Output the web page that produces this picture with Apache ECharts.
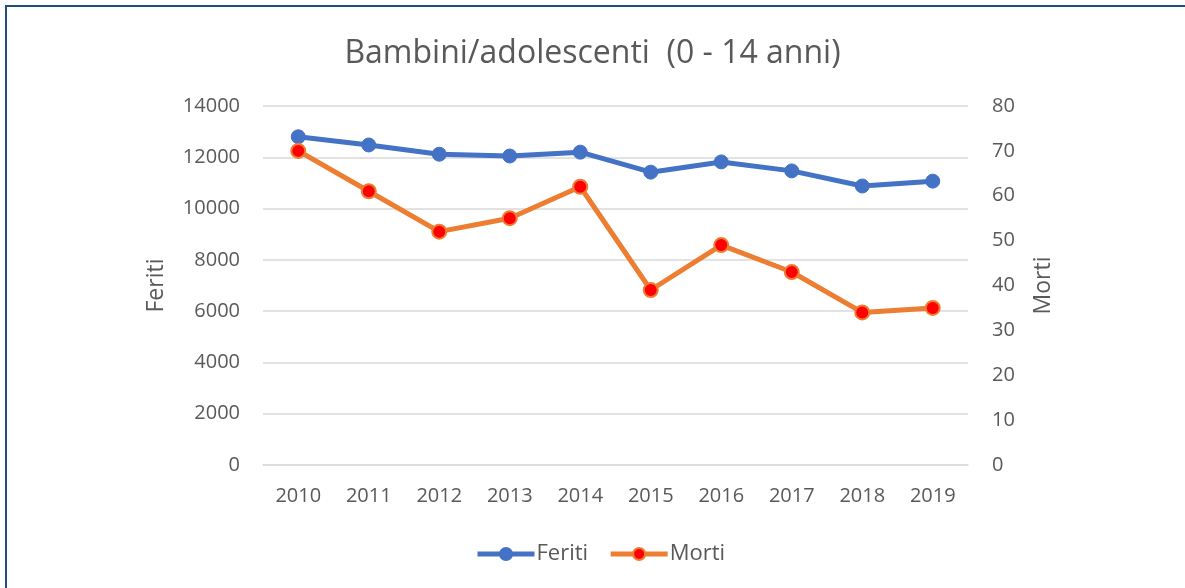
<!DOCTYPE html>
<html>
<head>
<meta charset="utf-8">
<script src="https://cdn.jsdelivr.net/npm/echarts@6/dist/echarts.min.js"></script>
<style>
html,body{margin:0;padding:0;background:#fff;overflow:hidden;}
#frame{position:absolute;left:5px;top:5px;width:1300px;height:700px;border-top:2px solid #1F4E79;border-left:2px solid #1F4E79;}
#chart{position:absolute;left:0;top:0;width:1185px;height:588px;}
</style>
</head>
<body>
<div id="frame"></div>
<div id="chart"></div>
<script>
const years = ['2010','2011','2012','2013','2014','2015','2016','2017','2018','2019'];
const feriti = [12800, 12480, 12120, 12050, 12200, 11420, 11820, 11470, 10880, 11070];
const morti = [70, 61, 52, 55, 62, 39, 49, 43, 34, 35];
const leftTicks = {min: 0, max: 14000, interval: 2000};
const rightTicks = {min: 0, max: 80, interval: 10};

const font = '"Open Sans", "Noto Sans", sans-serif';
const grey = '#595959';
const chart = echarts.init(document.getElementById('chart'));
chart.setOption({
  backgroundColor: 'transparent',
  animation: false,
  textStyle: {fontFamily: font},
  title: {
    text: 'Bambini/adolescenti  (0 - 14 anni)',
    left: 'center', top: 33,
    textStyle: {fontFamily: font, fontSize: 32, fontWeight: 'normal', color: grey}
  },
  legend: {
    top: 538, left: 470,
    itemWidth: 57, itemHeight: 15, itemGap: 20,
    lineStyle: {width: 5},
    textStyle: {fontFamily: font, fontSize: 22, color: grey, padding: [0,0,0,-3]},
    data: [{name: 'Feriti', lineStyle: {width: 5}}, {name: 'Morti', lineStyle: {width: 5}}]
  },
  grid: {left: 263, right: 217, top: 106, bottom: 123},
  xAxis: {
    type: 'category', data: years, boundaryGap: true,
    axisLine: {show: true, lineStyle: {color: '#D9D9D9', width: 1.5}},
    axisTick: {show: false},
    axisLabel: {fontFamily: font, fontSize: 20, color: grey, margin: 21}
  },
  yAxis: [{
    type: 'value', min: leftTicks.min, max: leftTicks.max, interval: leftTicks.interval,
    name: 'Feriti', nameLocation: 'middle', nameGap: 95, nameRotate: 90,
    nameTextStyle: {fontFamily: font, fontSize: 23, color: grey},
    axisLine: {show: false}, axisTick: {show: false},
    axisLabel: {fontFamily: font, fontSize: 20, color: grey, margin: 23, formatter: v => String(v)},
    splitLine: {lineStyle: {color: '#D9D9D9', width: 1.5}}
  }, {
    type: 'value', min: rightTicks.min, max: rightTicks.max, interval: rightTicks.interval,
    position: 'right',
    name: 'Morti', nameLocation: 'middle', nameGap: 64, nameRotate: 90,
    nameTextStyle: {fontFamily: font, fontSize: 23, color: grey},
    axisLine: {show: false}, axisTick: {show: false},
    axisLabel: {fontFamily: font, fontSize: 20, color: grey, margin: 24, formatter: v => String(v)},
    splitLine: {show: false}
  }],
  series: [{
    name: 'Feriti', type: 'line', yAxisIndex: 0, data: feriti,
    symbol: 'circle', symbolSize: 14,
    lineStyle: {color: '#4472C4', width: 5},
    itemStyle: {color: '#4472C4', borderColor: '#4472C4', borderWidth: 1}
  }, {
    name: 'Morti', type: 'line', yAxisIndex: 1, data: morti,
    symbol: 'circle', symbolSize: 14,
    lineStyle: {color: '#ED7D31', width: 5},
    itemStyle: {color: '#FF0000', borderColor: '#ED7D31', borderWidth: 2}
  }]
});
</script>
</body>
</html>
